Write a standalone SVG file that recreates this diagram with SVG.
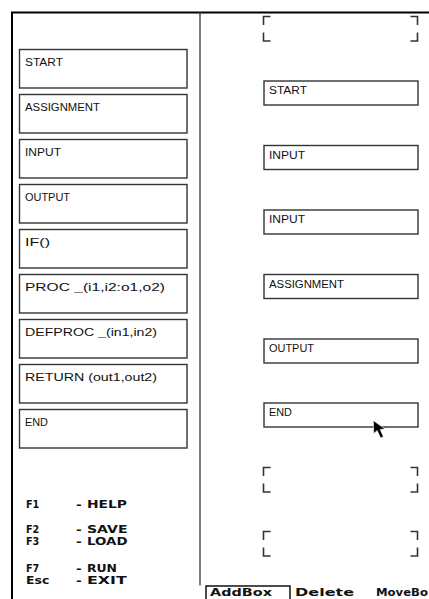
<svg xmlns="http://www.w3.org/2000/svg" width="429" height="599" viewBox="0 0 429 599">
<style>
.bg{fill:#fff}
.frame{stroke:#000;stroke-width:2;fill:none}
.div{stroke:#333;stroke-width:1.3;fill:none}
.box{fill:#fff;stroke:#333;stroke-width:1.4}
.lbl{font-family:"Liberation Sans",Arial,sans-serif;font-size:10px;fill:#111}
.key{font-family:"DejaVu Sans","Liberation Sans",sans-serif;font-weight:bold;font-size:10.5px;fill:#111}
.menu{font-family:"DejaVu Sans","Liberation Sans",sans-serif;font-weight:bold;font-size:10px;fill:#111}
.brk{stroke:#333;stroke-width:1.6;fill:none}
</style>
<rect class="bg" x="0" y="0" width="429" height="599"/>
<g id="frame">
<path class="frame" d="M12,599 V12.5 H429"/>
<path class="div" d="M200,12 V585.5"/>
</g>
<g id="palette">
<g id="pal-start"><rect class="box" x="19.5" y="49.5" width="167.5" height="38.5"/><text class="lbl" x="25" y="65.5" textLength="38" lengthAdjust="spacingAndGlyphs">START</text></g>
<g id="pal-assignment"><rect class="box" x="19.5" y="94.5" width="167.5" height="38.5"/><text class="lbl" x="25" y="110.5" textLength="75" lengthAdjust="spacingAndGlyphs">ASSIGNMENT</text></g>
<g id="pal-input"><rect class="box" x="19.5" y="139.5" width="167.5" height="38.5"/><text class="lbl" x="25" y="155.5" textLength="36" lengthAdjust="spacingAndGlyphs">INPUT</text></g>
<g id="pal-output"><rect class="box" x="19.5" y="184.5" width="167.5" height="38.5"/><text class="lbl" x="25" y="200.5" textLength="45" lengthAdjust="spacingAndGlyphs">OUTPUT</text></g>
<g id="pal-if"><rect class="box" x="19.5" y="229.5" width="167.5" height="38.5"/><text class="lbl" x="25" y="245.5" textLength="25" lengthAdjust="spacingAndGlyphs">IF()</text></g>
<g id="pal-proc"><rect class="box" x="19.5" y="274.5" width="167.5" height="38.5"/><text class="lbl" x="25" y="290.5" textLength="140" lengthAdjust="spacingAndGlyphs">PROC _(i1,i2:o1,o2)</text></g>
<g id="pal-defproc"><rect class="box" x="19.5" y="319.5" width="167.5" height="38.5"/><text class="lbl" x="25" y="335.5" textLength="132" lengthAdjust="spacingAndGlyphs">DEFPROC _(in1,in2)</text></g>
<g id="pal-return"><rect class="box" x="19.5" y="364.5" width="167.5" height="38.5"/><text class="lbl" x="25" y="380.5" textLength="132" lengthAdjust="spacingAndGlyphs">RETURN (out1,out2)</text></g>
<g id="pal-end"><rect class="box" x="19.5" y="409.5" width="167.5" height="38.5"/><text class="lbl" x="25" y="425.5" textLength="23" lengthAdjust="spacingAndGlyphs">END</text></g>
</g>
<g id="keys">
<text class="key" x="26" y="507.5" textLength="13.3" lengthAdjust="spacingAndGlyphs">F1</text><text class="key" x="76" y="507.5" textLength="5.7" lengthAdjust="spacingAndGlyphs">-</text><text class="key" x="87" y="507.5" textLength="40" lengthAdjust="spacingAndGlyphs">HELP</text>
<text class="key" x="26" y="532.5" textLength="13.3" lengthAdjust="spacingAndGlyphs">F2</text><text class="key" x="76" y="532.5" textLength="5.7" lengthAdjust="spacingAndGlyphs">-</text><text class="key" x="87" y="532.5" textLength="40.5" lengthAdjust="spacingAndGlyphs">SAVE</text>
<text class="key" x="26" y="544.5" textLength="13.3" lengthAdjust="spacingAndGlyphs">F3</text><text class="key" x="76" y="544.5" textLength="5.7" lengthAdjust="spacingAndGlyphs">-</text><text class="key" x="87" y="544.5" textLength="40.5" lengthAdjust="spacingAndGlyphs">LOAD</text>
<text class="key" x="26" y="571.5" textLength="13.3" lengthAdjust="spacingAndGlyphs">F7</text><text class="key" x="76" y="571.5" textLength="5.7" lengthAdjust="spacingAndGlyphs">-</text><text class="key" x="87" y="571.5" textLength="30" lengthAdjust="spacingAndGlyphs">RUN</text>
<text class="key" x="26" y="583.5" textLength="23.3" lengthAdjust="spacingAndGlyphs">Esc</text><text class="key" x="76" y="583.5" textLength="5.7" lengthAdjust="spacingAndGlyphs">-</text><text class="key" x="87" y="583.5" textLength="39.7" lengthAdjust="spacingAndGlyphs">EXIT</text>
</g>
<defs>
<g id="slot">
<path class="brk" d="M263.5,25 V16.5 H270.5 M263.5,32.5 V41 H270.5 M410.5,16.5 H417.5 V25 M417.5,32.5 V41 H410.5"/>
</g>
</defs>
<g id="slot-1"><use href="#slot"/></g>
<g id="flow-start"><rect class="box" x="264" y="81" width="154" height="24"/><text class="lbl" x="269" y="94" textLength="38" lengthAdjust="spacingAndGlyphs">START</text></g>
<g id="flow-input1"><rect class="box" x="264" y="145.5" width="154" height="24"/><text class="lbl" x="269" y="158.5" textLength="36" lengthAdjust="spacingAndGlyphs">INPUT</text></g>
<g id="flow-input2"><rect class="box" x="264" y="210" width="154" height="24"/><text class="lbl" x="269" y="223" textLength="36" lengthAdjust="spacingAndGlyphs">INPUT</text></g>
<g id="flow-assignment"><rect class="box" x="264" y="274.5" width="154" height="24"/><text class="lbl" x="269" y="287.5" textLength="75" lengthAdjust="spacingAndGlyphs">ASSIGNMENT</text></g>
<g id="flow-output"><rect class="box" x="264" y="339" width="154" height="24"/><text class="lbl" x="269" y="352" textLength="45" lengthAdjust="spacingAndGlyphs">OUTPUT</text></g>
<g id="flow-end"><rect class="box" x="264" y="403" width="154" height="24"/><text class="lbl" x="269" y="416" textLength="23" lengthAdjust="spacingAndGlyphs">END</text></g>
<g id="slot-2"><use href="#slot" y="451"/></g>
<g id="slot-3"><use href="#slot" y="515"/></g>
<g id="connectors"></g>
<g id="cursor"><path d="M373.3,420.5 L373.8,433.5 L377.2,430.5 L380.6,438 L383.4,436.7 L380.2,429.4 L385,429 Z" fill="#000" stroke="#fff" stroke-width="0.6"/></g>
<g id="menu">
<rect x="206" y="586" width="84" height="14" fill="#fff" stroke="#000" stroke-width="1.4"/>
<text class="menu" x="210" y="596" textLength="62" lengthAdjust="spacingAndGlyphs">AddBox</text>
<text class="menu" x="295" y="596" textLength="59" lengthAdjust="spacingAndGlyphs">Delete</text>
<text class="menu" x="376" y="596" textLength="52" lengthAdjust="spacingAndGlyphs">MoveBo</text>
</g>
</svg>
